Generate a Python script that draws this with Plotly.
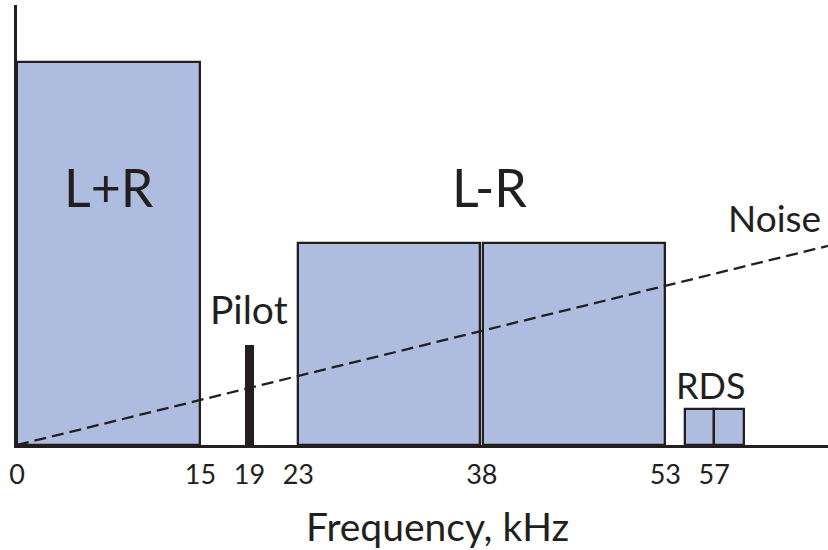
import plotly.graph_objects as go

# ---- data (kHz and relative level) ----
band_names = ["L+R", "L-R low", "L-R high", "RDS low", "RDS high"]
band_start = [0, 23, 38, 54.6, 57]
band_end = [15, 38, 53, 57, 59.4]
band_level = [1.0, 0.527, 0.527, 0.094, 0.094]

pilot_freq = [19]
pilot_level = [0.261]
pilot_bw = 0.8

noise_x = [0, 66.3]
noise_y = [0, 0.52]

tick_vals = [0, 15, 19, 23, 38, 53, 57]
tick_text = ["0", "15", "19", "23", "38", "53", "57"]

labels = ["L+R", "L-R", "Pilot", "Noise", "RDS"]
label_x = [7.5, 38.6, 19.0, 61.9, 56.7]
label_y = [0.673, 0.673, 0.355, 0.593, 0.157]
label_size = [52, 52, 39, 37, 36]

axis_title = "Frequency, kHz"

FONT = "Lato"
INK = "#231F20"
FILL = "#AEBDDF"
GAP = 0.25  # visual gap between adjacent L-R boxes

widths = []
centers = []
for i, (s, e) in enumerate(zip(band_start, band_end)):
    if band_names[i] == "L-R low":
        e = e - GAP / 2
    elif band_names[i] == "L-R high":
        s = s + GAP / 2
    widths.append(e - s)
    centers.append((s + e) / 2)

fig = go.Figure()
fig.add_trace(go.Bar(
    x=centers, y=band_level, width=widths,
    marker=dict(color=FILL, line=dict(color=INK, width=2.3)),
    hoverinfo="skip", showlegend=False,
))
fig.add_trace(go.Bar(
    x=pilot_freq, y=pilot_level, width=[pilot_bw],
    marker=dict(color=INK, line=dict(width=0)),
    hoverinfo="skip", showlegend=False,
))
fig.add_trace(go.Scatter(
    x=noise_x, y=noise_y, mode="lines",
    line=dict(color=INK, width=2.3, dash="12px,6px"),
    hoverinfo="skip", showlegend=False,
))

for t, x, y, s in zip(labels, label_x, label_y, label_size):
    fig.add_annotation(x=x, y=y, text=t, showarrow=False,
                       font=dict(family=FONT, size=s, color=INK),
                       xanchor="center", yanchor="middle")

fig.add_annotation(xref="paper", yref="paper", x=0.5185, y=-0.185,
                   text=axis_title, showarrow=False,
                   font=dict(family=FONT, size=39, color=INK),
                   xanchor="center", yanchor="middle")

fig.update_layout(
    width=828, height=550,
    margin=dict(l=17, r=0, t=5, b=105),
    paper_bgcolor="white", plot_bgcolor="white",
    barmode="overlay", bargap=0,
    font=dict(family=FONT, color=INK),
    xaxis=dict(
        range=[0, 66.3], showgrid=False, zeroline=False,
        showline=True, linecolor=INK, linewidth=2.5,
        tickmode="array", tickvals=tick_vals, ticktext=tick_text,
        ticks="outside", ticklen=4, tickcolor="rgba(0,0,0,0)",
        tickfont=dict(family=FONT, size=27, color=INK),
    ),
    yaxis=dict(
        range=[0, 1.149], showgrid=False, zeroline=False,
        showline=True, linecolor=INK, linewidth=2.5,
        showticklabels=False, ticks="",
    ),
)

fig.write_html("out.html", config={"displayModeBar": False},
               post_script="document.body.style.margin='0';document.body.style.overflow='hidden';")
